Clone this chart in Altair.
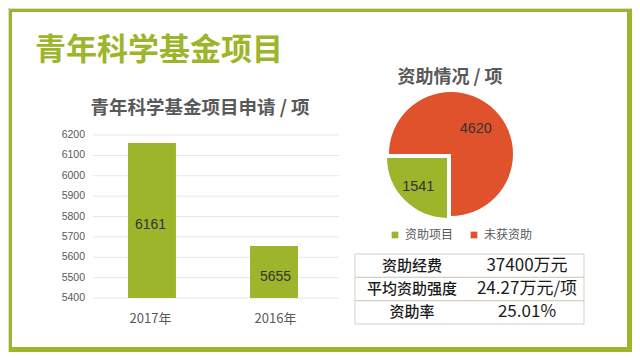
import altair as alt
import pandas as pd

# ---- data ----
years = ["2017年", "2016年"]
applications = [6161, 5655]
y_ticks = [5400, 5500, 5600, 5700, 5800, 5900, 6000, 6100, 6200]
pie_cats = ["资助项目", "未获资助"]
pie_vals = [1541, 4620]
pie_order = [0, 1]
table_labels = ["资助经费", "平均资助强度", "资助率"]
table_values = ["37400万元", "24.27万元/项", "25.01%"]

main_title = "青年科学基金项目"
bar_title = "青年科学基金项目申请 / 项"
pie_title = "资助情况 / 项"

GREEN = "#9db52a"
ORANGE = "#e0522b"
GRAY = "#595959"
FONT = "Noto Sans CJK SC"

W, H = 624, 344

bar_df = pd.DataFrame({"year": years, "value": applications})
tick_df = pd.DataFrame({"tick": y_ticks})
pie_df = pd.DataFrame({"cat": pie_cats, "value": pie_vals, "order": pie_order})
table_df = pd.DataFrame({"row": [0, 1, 2], "label": table_labels, "value": table_values})
one = pd.DataFrame({"a": [0]})

xs = alt.Scale(domain=years, range=[80, 330], paddingInner=0.607, paddingOuter=0.328)
ys = alt.Scale(domain=[5400, 6200], range=[290, 127])
ts = alt.Scale(domain=[0, 1, 2], range=[246, 316], paddingInner=0, paddingOuter=0)

# background panel
panel = alt.Chart(one).mark_rect(color="white").encode(
    x=alt.value(4), x2=alt.value(619), y=alt.value(4), y2=alt.value(339)
)

title_main = alt.Chart(one).mark_text(
    text=main_title, fontSize=31, fontWeight="bold", color=GREEN, align="left", baseline="middle", font=FONT
).encode(x=alt.value(27), y=alt.value(43))

title_bar = alt.Chart(one).mark_text(
    text=bar_title, fontSize=18.5, fontWeight="bold", color=GRAY, align="center", baseline="middle", font=FONT
).encode(x=alt.value(192), y=alt.value(100))

title_pie = alt.Chart(one).mark_text(
    text=pie_title, fontSize=18, fontWeight="bold", color=GRAY, align="center", baseline="middle", font=FONT
).encode(x=alt.value(442), y=alt.value(70))

# bar chart
grid = alt.Chart(tick_df).mark_rule(color="#e6e6e6", strokeWidth=1).encode(
    y=alt.Y("tick:Q", scale=ys, axis=None), x=alt.value(85), x2=alt.value(331)
)
tick_labels = alt.Chart(tick_df).mark_text(
    align="right", baseline="middle", fontSize=10.5, color=GRAY, font="Liberation Sans"
).encode(y=alt.Y("tick:Q", scale=ys, axis=None), x=alt.value(77), text="tick:Q")

bars = alt.Chart(bar_df).mark_bar(color=GREEN).encode(
    x=alt.X("year:N", scale=xs, axis=None),
    y=alt.Y("value:Q", scale=ys, axis=None),
    y2=alt.datum(5400),
)
bar_text = alt.Chart(bar_df).transform_calculate(mid="(datum.value + 5400) / 2").mark_text(
    fontSize=14, color="#333333", baseline="middle", dy=5, font="Liberation Sans"
).encode(
    x=alt.X("year:N", scale=xs, axis=None),
    y=alt.Y("mid:Q", scale=ys, axis=None),
    text="value:Q",
)
x_labels = alt.Chart(bar_df).mark_text(fontSize=13, color=GRAY, baseline="middle", font=FONT).encode(
    x=alt.X("year:N", scale=xs, axis=None), y=alt.value(311), text="year:N"
)

# pie
pie_base = (
    alt.Chart(pie_df)
    .transform_joinaggregate(total="sum(value)")
    .transform_window(cum="sum(value)", sort=[alt.SortField("order")], frame=[None, 0])
    .transform_calculate(
        start="PI + (datum.cum - datum.value) / datum.total * 2 * PI",
        end="PI + datum.cum / datum.total * 2 * PI",
    )
    .transform_calculate(mid="(datum.start + datum.end) / 2")
)
color = alt.Color(
    "cat:N",
    scale=alt.Scale(domain=pie_cats, range=[GREEN, ORANGE]),
    legend=alt.Legend(
        orient="none", legendX=381, legendY=221, direction="horizontal", title=None,
        symbolType="square", symbolSize=45, symbolStrokeWidth=0, labelFontSize=12,
        labelColor=GRAY, labelFont=FONT, columnPadding=14, labelOffset=4,
    ),
)
pie_orange = pie_base.transform_filter(alt.datum.cat == "未获资助").mark_arc(radius=62).encode(
    theta=alt.Theta("start:Q", scale=None, stack=None), theta2="end:Q", color=color,
    x=alt.value(443), y=alt.value(146),
)
pie_green = pie_base.transform_filter(alt.datum.cat == "资助项目").mark_arc(
    radius=62, stroke="white", strokeWidth=2
).encode(
    theta=alt.Theta("start:Q", scale=None, stack=None), theta2="end:Q", color=color,
    x=alt.value(440), y=alt.value(149),
)
pie_text_orange = pie_base.transform_filter(alt.datum.cat == "未获资助").mark_text(
    radius=35, fontSize=14.5, color="#333333", font="Liberation Sans"
).encode(theta=alt.Theta("mid:Q", scale=None, stack=None), text="value:Q", x=alt.value(443), y=alt.value(146))
pie_text_green = pie_base.transform_filter(alt.datum.cat == "资助项目").mark_text(
    radius=42, fontSize=14.5, color="#333333", font="Liberation Sans"
).encode(theta=alt.Theta("mid:Q", scale=None, stack=None), text="value:Q", x=alt.value(440), y=alt.value(149))

# table
table_rect = alt.Chart(table_df).mark_rect(fillOpacity=0, stroke="#d5d0bd", strokeWidth=1).encode(
    y=alt.Y("row:O", scale=ts, axis=None), x=alt.value(347), x2=alt.value(576)
)
table_left = alt.Chart(table_df).mark_text(fontSize=15, fontWeight=500, color="#1a1a1a", font=FONT).encode(
    y=alt.Y("row:O", scale=ts, axis=None), x=alt.value(404), text="label:N"
)
table_right = alt.Chart(table_df).mark_text(fontSize=17, color="#1a1a1a", font=FONT).encode(
    y=alt.Y("row:O", scale=ts, axis=None), x=alt.value(519), text="value:N"
)

chart = (
    alt.layer(
        panel, title_main, title_bar, title_pie,
        grid, bars, tick_labels, bar_text, x_labels,
        pie_orange, pie_green, pie_text_orange, pie_text_green,
        table_rect, table_left, table_right,
    )
    .resolve_scale(y="independent", x="independent")
    .properties(width=W, height=H, padding=0, autosize=alt.AutoSizeParams(type="none"), background=GREEN)
    .configure_view(stroke=None)
    .configure(font=FONT)
)

chart.save("out.html", embed_options={"renderer": "svg", "actions": False})
